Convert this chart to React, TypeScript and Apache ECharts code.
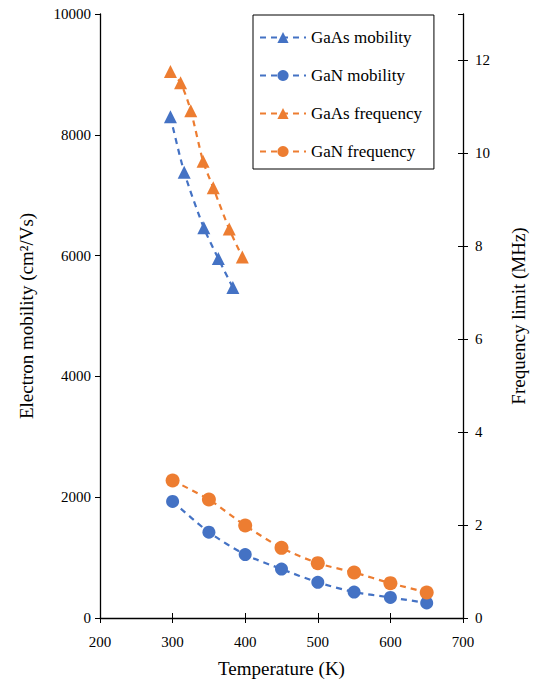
import React, { useEffect, useRef } from "react";
import * as echarts from "echarts";

const gaasMobT = [297, 316, 343, 363, 383];
const gaasMob = [8300, 7380, 6460, 5950, 5470];
const ganT = [300, 350, 400, 450, 500, 550, 600, 650];
const ganMob = [1930, 1420, 1050, 810, 590, 430, 340, 250];
const gaasFreqT = [297, 311, 325, 342, 356, 378, 396];
const gaasFreq = [11.76, 11.52, 10.92, 9.83, 9.26, 8.37, 7.77];
const ganFreq = [2.96, 2.55, 1.99, 1.51, 1.18, 0.98, 0.75, 0.55];

const BLUE = "#4472C4";
const ORANGE = "#ED7D31";
const FONT = "Liberation Serif, Times New Roman, serif";

const pairs = (xs: number[], ys: number[]) => xs.map((x, i) => [x, ys[i]]);

export default function App() {
  const ref = useRef<HTMLDivElement>(null);
  useEffect(() => {
    if (!ref.current) return;
    const chart = echarts.init(ref.current, undefined, { renderer: "svg" });
    const mk = (name: string, color: string, symbol: string, size: number, data: number[][], yAxisIndex: number) => ({
      name,
      type: "line",
      yAxisIndex,
      xAxisIndex: 0,
      data,
      smooth: 0.25,
      symbol,
      symbolSize: size,
      itemStyle: { color },
      lineStyle: { color, width: 2.2, type: [6, 5] },
    });
    const tickOnly = (inside: boolean) => ({
      axisLine: { show: false },
      axisTick: { show: true, inside, length: 5, lineStyle: { color: "#000" } },
      axisLabel: { show: false },
      splitLine: { show: false },
    });
    chart.setOption({
      animation: false,
      backgroundColor: "#ffffff",
      textStyle: { fontFamily: FONT },
      grid: { left: 100, right: 80, top: 14, bottom: 65 },
      legend: {
        orient: "vertical",
        left: 253,
        top: 15,
        width: 190,
        padding: [14, 12, 9, 6],
        borderColor: "#000",
        borderWidth: 1,
        itemWidth: 46,
        itemHeight: 14,
        itemGap: 21,
        textStyle: { fontFamily: FONT, fontSize: 17, color: "#000" },
        data: ["GaAs mobility", "GaN mobility", "GaAs frequency", "GaN frequency"],
      },
      xAxis: [
        {
          type: "value",
          min: 200,
          max: 700,
          interval: 100,
          position: "bottom",
          name: "Temperature (K)",
          nameLocation: "middle",
          nameGap: 41,
          nameTextStyle: { fontFamily: FONT, fontSize: 19, color: "#000" },
          axisLine: { lineStyle: { color: "#000", width: 1.3 } },
          axisTick: { show: true, length: 5, lineStyle: { color: "#000" } },
          axisLabel: { fontFamily: FONT, fontSize: 15, color: "#000", margin: 16 },
          splitLine: { show: false },
        },
        {
          type: "value",
          min: 200,
          max: 700,
          interval: 100,
          position: "bottom",
          ...tickOnly(true),
        },
      ],
      yAxis: [
        {
          type: "value",
          min: 0,
          max: 10000,
          interval: 2000,
          position: "left",
          name: "Electron mobility (cm²/Vs)",
          nameLocation: "middle",
          nameGap: 64,
          nameTextStyle: { fontFamily: FONT, fontSize: 19, color: "#000" },
          axisLine: { show: true, lineStyle: { color: "#000", width: 1.3 } },
          axisTick: { show: true, length: 5, lineStyle: { color: "#000" } },
          axisLabel: { fontFamily: FONT, fontSize: 15, color: "#000", margin: 9, formatter: (v: number) => String(v) },
          splitLine: { show: false },
        },
        {
          type: "value",
          min: 0,
          max: 13,
          interval: 2,
          position: "right",
          name: "Frequency limit (MHz)",
          nameLocation: "middle",
          nameGap: 46,
          nameRotate: 90,
          nameTextStyle: { fontFamily: FONT, fontSize: 19, color: "#000" },
          axisLine: { show: true, lineStyle: { color: "#000", width: 1.3 } },
          axisTick: { show: true, length: 5, lineStyle: { color: "#000" } },
          axisLabel: {
            fontFamily: FONT,
            fontSize: 15,
            color: "#000",
            margin: 12,
            showMaxLabel: false,
            formatter: (v: number) => (v % 2 === 0 ? String(v) : ""),
          },
          splitLine: { show: false },
        },
        {
          type: "value",
          min: 0,
          max: 13,
          interval: 2,
          position: "right",
          ...tickOnly(true),
        },
      ],
      series: [
        mk("GaAs mobility", BLUE, "triangle", 13, pairs(gaasMobT, gaasMob), 0),
        mk("GaN mobility", BLUE, "circle", 13, pairs(ganT, ganMob), 0),
        mk("GaAs frequency", ORANGE, "triangle", 13, pairs(gaasFreqT, gaasFreq), 1),
        mk("GaN frequency", ORANGE, "circle", 14, pairs(ganT, ganFreq), 1),
      ],
    });
    return () => chart.dispose();
  }, []);
  return (
    <div
      ref={ref}
      style={{ position: "fixed", left: 0, top: 0, width: 543, height: 683, background: "#fff" }}
    />
  );
}
